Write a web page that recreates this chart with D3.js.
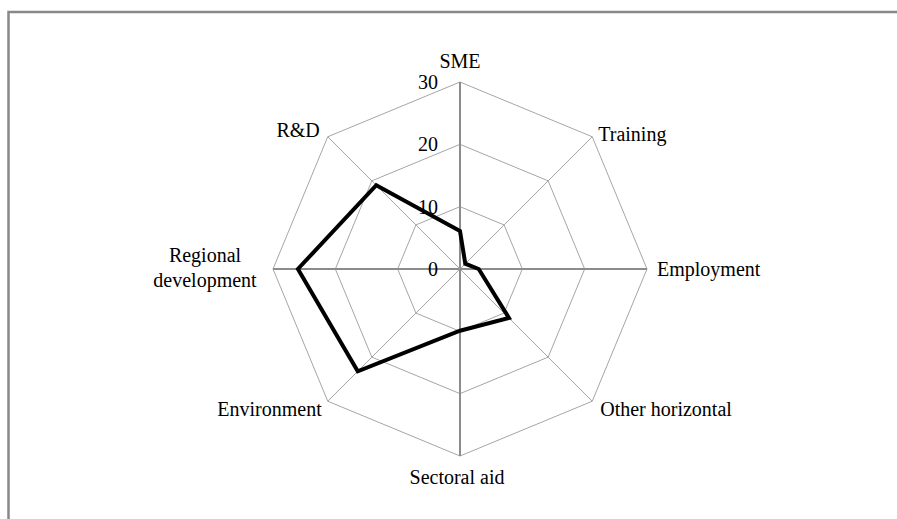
<!DOCTYPE html>
<html>
<head>
<meta charset="utf-8">
<script src="https://cdn.jsdelivr.net/npm/d3@7"></script>
<style>
  body { margin: 0; background: #fff; }
  svg text { font-family: "Liberation Serif", "Times New Roman", serif; fill: #000; }
</style>
</head>
<body>
<svg id="chart" width="897" height="519"></svg>
<script>
// axes of the radar, clockwise from the top
var categories = ["SME", "Training", "Employment", "Other horizontal",
                  "Sectoral aid", "Environment", "Regional development", "R&D"];
var values = [6.1, 1.2, 3.0, 11.1, 9.9, 23.2, 26.0, 19.0];
var tickValues = [0, 10, 20, 30];

var width = 897, height = 519;
var cx = 460, cy = 269, radius = 187;
var svg = d3.select("#chart");

// outer frame (only top and left edges show)
svg.append("rect")
  .attr("x", 8.5).attr("y", 12)
  .attr("width", 1000).attr("height", 1000)
  .attr("fill", "none")
  .attr("stroke", "#888")
  .attr("stroke-width", 2.5);

var r = d3.scaleLinear().domain([0, 30]).range([0, radius]);
var angle = d3.scaleBand().domain(categories).range([0, 2 * Math.PI]).align(0).paddingInner(0);

function pt(cat, v) {
  var a = angle(cat);
  return [cx + r(v) * Math.sin(a), cy - r(v) * Math.cos(a)];
}

var g = svg.append("g");

// rings
tickValues.slice(1).forEach(function(t) {
  g.append("path")
    .attr("d", d3.line()(categories.map(function(c) { return pt(c, t); })) + "Z")
    .attr("fill", "none")
    .attr("stroke", "#a6a6a6")
    .attr("stroke-width", 1);
});

// spokes
categories.forEach(function(c, i) {
  var p = pt(c, 30);
  var main = i % 2 == 0;
  g.append("line")
    .attr("x1", cx).attr("y1", cy)
    .attr("x2", p[0]).attr("y2", p[1])
    .attr("stroke", main ? "#8c8c8c" : "#a6a6a6")
    .attr("stroke-width", main ? 2 : 1);
});

// tick labels
g.selectAll("text.tick")
  .data(tickValues)
  .join("text")
  .attr("class", "tick")
  .attr("x", cx - 22)
  .attr("y", function(d) { return cy - r(d); })
  .attr("dy", "0.35em")
  .attr("text-anchor", "end")
  .style("font-size", "20px")
  .text(function(d) { return d; });

// data polygon
g.append("path")
  .attr("d", d3.line()(categories.map(function(c, i) { return pt(c, values[i]); })) + "Z")
  .attr("fill", "none")
  .attr("stroke", "#000")
  .attr("stroke-width", 4)
  .attr("stroke-linejoin", "miter");

// category labels
var labelPos = [
  {dx: 0,   dy: -14, anchor: "middle"},
  {dx: 6,   dy: 4,   anchor: "start"},
  {dx: 10,  dy: 7,   anchor: "start"},
  {dx: 8,   dy: 15,  anchor: "start"},
  {dx: -3,  dy: 28,  anchor: "middle"},
  {dx: -6,  dy: 15,  anchor: "end"},
  {dx: -68, dy: -7,  anchor: "middle"},
  {dx: -8,  dy: 0,   anchor: "end"}
];

categories.forEach(function(c, i) {
  var p = pt(c, 30);
  var lp = labelPos[i];
  var t = g.append("text")
    .attr("x", p[0] + lp.dx)
    .attr("y", p[1] + lp.dy)
    .attr("text-anchor", lp.anchor)
    .style("font-size", "20px");
  if (c == "Regional development") {
    t.append("tspan").attr("x", p[0] + lp.dx).text("Regional");
    t.append("tspan").attr("x", p[0] + lp.dx).attr("dy", 25).text("development");
  } else {
    t.text(c);
  }
});
</script>
</body>
</html>
